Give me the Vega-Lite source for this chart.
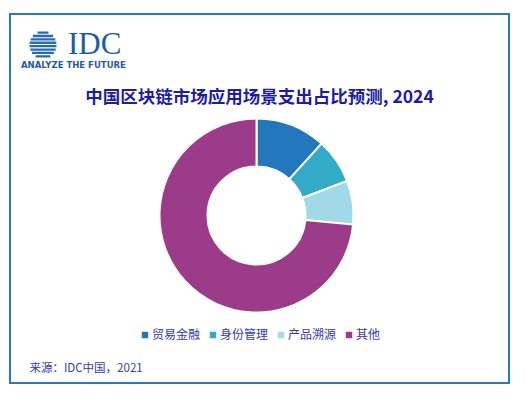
{
  "$schema": "https://vega.github.io/schema/vega-lite/v6.json",
  "width": 499,
  "height": 369,
  "autosize": {"type": "none"},
  "padding": {"left": 10, "top": 14, "right": 17, "bottom": 14},
  "background": "white",
  "view": {"stroke": "#2b78c2", "strokeWidth": 2},
  "title": {
    "text": "中国区块链市场应用场景支出占比预测, 2024",
    "font": "Noto Sans CJK SC",
    "fontSize": 17.5,
    "fontWeight": "bold",
    "color": "#1c1ca6",
    "anchor": "middle",
    "frame": "group",
    "offset": -92
  },
  "data": {
    "values": [
      {"category": "贸易金融", "rank": 1, "share": 11.7, "brand": "IDC", "source": "来源：IDC中国，2021"},
      {"category": "身份管理", "rank": 2, "share": 7.5, "brand": "IDC", "source": "来源：IDC中国，2021"},
      {"category": "产品溯源", "rank": 3, "share": 7.3, "brand": "IDC", "source": "来源：IDC中国，2021"},
      {"category": "其他", "rank": 4, "share": 73.5, "brand": "IDC", "source": "来源：IDC中国，2021"}
    ]
  },
  "mark": {"type": "arc", "outerRadius": 97, "innerRadius": 49, "stroke": "white", "yOffset": 17, "xOffset": -3},
  "encoding": {
    "theta": {"field": "share", "type": "quantitative", "stack": true},
    "order": {"field": "rank", "type": "quantitative"},
    "color": {
      "field": "category",
      "type": "nominal",
      "sort": ["贸易金融", "身份管理", "产品溯源", "其他"],
      "scale": {"domain": ["贸易金融", "身份管理", "产品溯源", "其他"], "range": ["#2277bd", "#33abc7", "#a1dae6", "#9c3b89"]},
      "legend": {
        "orient": "none",
        "legendX": 129,
        "legendY": 315,
        "direction": "horizontal",
        "columns": 4,
        "title": null,
        "symbolType": "square",
        "symbolSize": 42,
        "symbolStrokeWidth": 0,
        "labelFont": "Noto Sans CJK SC",
        "labelFontSize": 12,
        "labelColor": "#3636b8",
        "labelOffset": 1,
        "columnPadding": 6
      }
    },
    "opacity": {
      "field": "brand",
      "type": "ordinal",
      "scale": {"type": "point", "range": [1, 1]},
      "legend": {
        "orient": "none",
        "legendX": 11,
        "legendY": 9,
        "title": "ANALYZE THE FUTURE",
        "titleOrient": "bottom",
        "titleAnchor": "start",
        "titleFont": "DejaVu Sans",
        "titleFontSize": 8.5,
        "titleFontWeight": "bold",
        "titleColor": "#1d5ba6",
        "titlePadding": 1,
        "symbolType": "M-0.248,-0.614H0.248V-0.509H-0.248Z M-0.459,-0.4605H0.459V-0.3555H-0.459Z M-0.559,-0.307H0.559V-0.202H-0.559Z M-0.606,-0.1535H0.606V-0.0485H-0.606Z M-0.612,0H0.612V0.105H-0.612Z M-0.578,0.1535H0.578V0.2585H-0.578Z M-0.498,0.307H0.498V0.412H-0.498Z M-0.337,0.4605H0.337V0.5655H-0.337Z",
        "symbolSize": 1936,
        "symbolFillColor": "#2a6aae",
        "symbolStrokeWidth": 0,
        "symbolOpacity": 1,
        "labelFont": "Liberation Serif",
        "labelFontSize": 31,
        "labelColor": "#1d5ba6",
        "labelOffset": 3
      }
    },
    "strokeWidth": {
      "field": "source",
      "type": "ordinal",
      "scale": {"type": "point", "range": [2, 2]},
      "legend": {
        "orient": "none",
        "legendX": 8,
        "legendY": 349,
        "title": null,
        "symbolSize": 0,
        "symbolOpacity": 0,
        "labelOffset": 0,
        "labelFont": "Noto Sans CJK SC",
        "labelFontSize": 11.5,
        "labelColor": "#3636b8",
        "labelLimit": 300
      }
    }
  },
  "config": {
    "view": {"stroke": "#2b78c2", "strokeWidth": 2},
    "legend": {"padding": 0}
  }
}
